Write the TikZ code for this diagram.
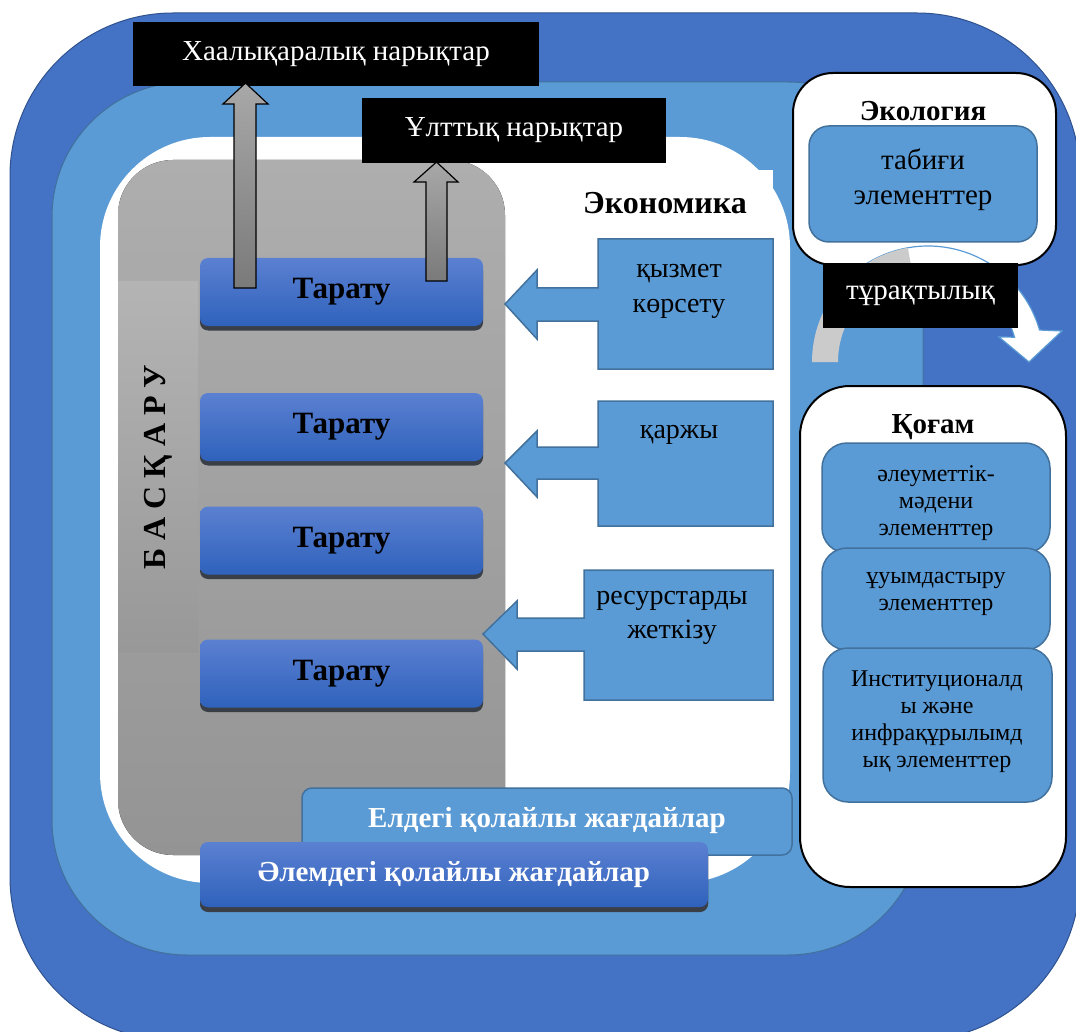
\documentclass[tikz,border=0pt]{standalone}
\usepackage{fontspec}
\setmainfont{Liberation Serif}
\usetikzlibrary{calc,shadows}
\definecolor{dblue}{HTML}{4472C4}
\definecolor{dbline}{HTML}{2F528F}
\definecolor{mblue}{HTML}{5B9BD5}
\definecolor{mbline}{HTML}{41719C}
\definecolor{btop}{HTML}{5B80D1}
\definecolor{bbot}{HTML}{2F62BC}
\definecolor{bshadow}{HTML}{3A3F47}
\definecolor{gtop}{HTML}{AEAEAE}
\definecolor{gbot}{HTML}{949494}
\definecolor{stop}{HTML}{B4B4B4}
\definecolor{sbot}{HTML}{989898}
\definecolor{atop}{HTML}{A8A8A8}
\definecolor{abot}{HTML}{7A7A7A}
\definecolor{arcgray}{HTML}{CBCBCB}
\newcommand{\fs}[2]{\fontsize{#1}{#2}\selectfont}
\begin{document}
\begin{tikzpicture}[x=1pt,y=-1pt,
  mbox/.style={fill=mblue, draw=mbline, line width=1.5pt},
  lbl/.style={inner sep=0pt, align=center},
  tbtn/.style={rounded corners=8pt, top color=btop, bottom color=bbot, inner sep=0pt,
     drop shadow={shadow xshift=0pt, shadow yshift=-4.5pt, fill=bshadow, opacity=1}},
  blk/.style={fill=black, text=white, inner sep=0pt, font=\fs{29}{34}},
  uparrow/.style={top color=atop, bottom color=abot, draw=black, line width=1.2pt},
  rbox/.style={fill=white, draw=black, line width=2pt},
  sub/.style={mbox, rounded corners=25pt}
]
\useasboundingbox (0,0) rectangle (1076,1032);
% outer frames
\begin{scope}
\clip (0,0) rectangle (1076,1032);
\draw[fill=dblue, draw=dbline, line width=1pt, rounded corners=163pt] (10,13) rectangle (1080,1040);
\end{scope}
\draw[fill=mblue, draw=mbline, line width=1pt, rounded corners=135pt] (52,82) rectangle (923,955);
\fill[white, rounded corners=110pt] (100,137) rectangle (790,883);
\fill[white] (560,170) rectangle (773,236);
% management container
\fill[top color=gtop, bottom color=gbot, rounded corners=55pt] (118,160) rectangle (505,855);
\fill[top color=stop, bottom color=sbot] (118,282) rectangle (198,652);
\node[lbl, rotate=90, font=\bfseries\fs{32}{32}] (bask) at (158,467) {Б А С Қ А Р У};
% distribution buttons
\node[tbtn, minimum width=283pt, minimum height=68pt, font=\bfseries\fs{31}{34}] (t1) at (341.5,292) {Тарату};
\node[tbtn, minimum width=283pt, minimum height=68pt, font=\bfseries\fs{31}{34}] (t2) at (341.5,427) {Тарату};
\node[tbtn, minimum width=283pt, minimum height=68pt, font=\bfseries\fs{31}{34}] (t3) at (341.5,540.5) {Тарату};
\node[tbtn, minimum width=283pt, minimum height=68pt, font=\bfseries\fs{31}{34}] (t4) at (341.5,673.5) {Тарату};
% market boxes
\node[blk, minimum width=406pt, minimum height=64pt] (intl) at (336,54.5) {Хаалықаралық нарықтар};
\node[blk, minimum width=304pt, minimum height=65pt] (natl) at (514,130.5) {Ұлттық нарықтар};
% up arrows
\draw[uparrow] (234,288) -- (234,104) -- (223,104) -- (245.5,83) -- (268,104) -- (256,104) -- (256,288) -- cycle;
\draw[uparrow] (426,281) -- (426,182) -- (414,182) -- (436.5,162) -- (458,182) -- (447,182) -- (447,281) -- cycle;
% economy
\node[lbl, font=\bfseries\fs{32}{34}] (econ) at (665,203) {Экономика};
\draw[mbox] (773,239) -- (598,239) -- (598,288) -- (537,288) -- (537,270) -- (505,304) -- (537,339) -- (537,321) -- (598,321) -- (598,369) -- (773,369) -- cycle;
\draw[mbox] (773,401) -- (598,401) -- (598,447) -- (537,447) -- (537,431) -- (505,463) -- (537,497) -- (537,479) -- (598,479) -- (598,526) -- (773,526) -- cycle;
\draw[mbox] (773,570) -- (584,570) -- (584,618) -- (517,618) -- (517,601) -- (483,634) -- (517,669) -- (517,651) -- (584,651) -- (584,700) -- (773,700) -- cycle;
\node[lbl, font=\fs{28}{35}] (serv) at (679,291) {қызмет\\көрсету};
\node[lbl, font=\fs{28}{35}] (fin) at (679,435) {қаржы};
\node[lbl, font=\fs{28}{34}] (res) at (672,618) {ресурстарды\\жеткізу};
% bottom bars
\draw[mbox, rounded corners=10pt] (302,788) rectangle (792,855);
\node[lbl, text=white, font=\bfseries\fs{29}{32}] (country) at (547,821) {Елдегі қолайлы жағдайлар};
\node[tbtn, minimum width=508pt, minimum height=65pt, text=white, font=\bfseries\fs{29}{32},
      drop shadow={shadow xshift=0pt, shadow yshift=-5pt, fill=bshadow, opacity=1}] (world) at (454,874.5) {Әлемдегі қолайлы жағдайлар};
% ecology
\draw[rbox, rounded corners=40pt] (793,73) rectangle (1056,265);
\node[lbl, font=\bfseries\fs{29}{32}] (ecol) at (923,111) {Экология};
\draw[mbox, rounded corners=20pt] (809,126) rectangle (1037,242);
\node[lbl, font=\fs{29}{35}] (nat) at (923,180) {табиғи\\элементтер};
% circular arrow
\coordinate (C) at (928,362);
\draw[fill=white, draw=mblue, line width=1.2pt]
  ($(C)+(125:116pt)$) arc[start angle=125, end angle=16, radius=116pt]
  -- (1062,331) -- (1029,362) -- (999,337)
  -- ($(C)+(16:90pt)$) arc[start angle=16, end angle=125, radius=90pt] -- cycle;
\fill[arcgray] ($(C)+(180:116pt)$) arc[start angle=180, end angle=100, radius=116pt]
  -- ($(C)+(100:90pt)$) arc[start angle=100, end angle=180, radius=90pt] -- cycle;
\node[blk, minimum width=195pt, minimum height=65pt] (stab) at (920.5,295.5) {тұрақтылық};
% society
\draw[rbox, rounded corners=50pt] (800,386) rectangle (1066,887);
\node[lbl, font=\bfseries\fs{29}{32}] (soc) at (933,427) {Қоғам};
\draw[sub] (822,443) rectangle (1050,553);
\node[lbl, font=\fs{24}{27}] (s1) at (936,503) {әлеуметтік-\\мәдени\\элементтер};
\draw[sub] (822,548) rectangle (1050,650);
\node[lbl, font=\fs{24}{27}] (s2) at (936,594) {ұуымдастыру\\элементтер};
\draw[sub] (823,648) rectangle (1052,802);
\node[lbl, font=\fs{24}{27}] (s3) at (937,722) {Институционалд\\ы және\\инфрақұрылымд\\ық элементтер};
\end{tikzpicture}
\end{document}
